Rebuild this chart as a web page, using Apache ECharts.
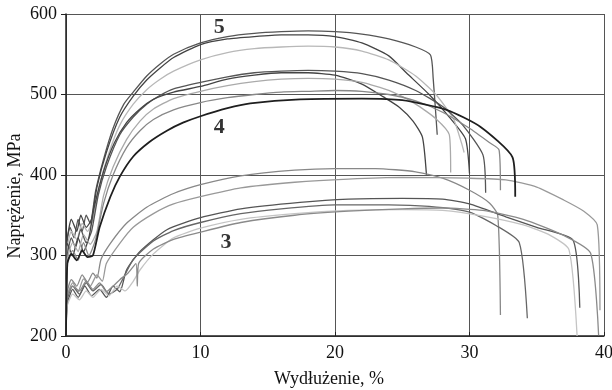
<!DOCTYPE html>
<html>
<head>
<meta charset="utf-8">
<script src="https://cdn.jsdelivr.net/npm/echarts@6/dist/echarts.min.js"></script>
<style>body{margin:0;background:#fff;}</style>
</head>
<body>
<div id="main" style="width:612px;height:390px;"></div>
<script type="text/javascript">
// krzywe rozciągania [wydłużenie %, naprężenie MPa]
// grupa 5
var a5 = [[0,200],[0.1,320],[0.3,335],[0.6,322],[0.9,345],[1.2,330],[1.5,350],[1.8,340],[2.2,380],[2.8,420],[3.5,458],[4.3,488],[5.0,503],[6,523],[7,538],[8,550],[10,564],[12,572],[14,576],[16,578],[18,579],[20,578],[22,575],[24,569],[26,559],[27.1,549],[27.3,520],[27.6,450]];
var b5 = [[0,200],[0.1,320],[0.4,345],[0.8,330],[1.1,350],[1.5,335],[1.9,345],[2.3,385],[3,428],[4,472],[5,498],[6,518],[7,533],[8,546],[10,562],[12,569],[14,572],[16,574],[18,574],[20,572],[22,564],[24,548],[25.3,527],[27,500],[28.5,472],[29.7,445],[30,402]];
var c5 = [[0,200],[0.1,310],[0.4,330],[0.8,320],[1.2,340],[1.6,330],[2,345],[2.5,388],[3.2,428],[4,462],[5,488],[6,506],[7,519],[8,529],[10,543],[12,552],[14,557],[16,559],[18,560],[20,559],[22,554],[24,543],[26,523],[27.5,500],[28.8,470],[29.4,440],[29.6,428]];
// grupa 4
var d4 = [[0,200],[0.1,300],[0.4,322],[0.7,310],[1.1,332],[1.5,316],[1.9,330],[2.4,375],[3,410],[4,450],[5,472],[6,488],[7,499],[8,507],[10,515],[12,522],[14,527],[16,529],[18,530],[20,529],[22,526],[24,518],[26,505],[28,485],[29.5,462],[31.0,425],[31.2,378]];
var e4 = [[0,200],[0.1,315],[0.5,300],[0.9,322],[1.3,305],[1.7,322],[2.1,360],[2.8,405],[3.6,440],[4.5,465],[5.5,482],[6.5,494],[8,503],[10,510],[12,519],[14,524],[16,527],[18,527],[20,524],[22,513],[23.6,497],[24.8,484],[25.8,467],[26.5,447],[26.8,400]];
var f4 = [[0,200],[0.1,295],[0.5,316],[0.9,305],[1.3,326],[1.8,314],[2.3,330],[2.8,375],[3.5,410],[4.5,444],[5.5,467],[6.5,482],[8,495],[10,504],[12,511],[14,516],[16,519],[18,520],[20,519],[22,515],[24,505],[26,488],[27.5,470],[28.5,450],[28.6,403]];
var g4 = [[0,200],[0.1,290],[0.5,306],[0.9,294],[1.3,316],[1.7,300],[2.2,320],[2.8,365],[3.5,400],[4.5,434],[5.5,455],[6.5,469],[8,481],[10,490],[12,496],[14,500],[16,503],[18,504],[20,505],[22,504],[24,500],[26,492],[28,478],[30,458],[31.5,440],[32.2,431],[32.3,381]];
var h4 = [[0,200],[0.1,290],[0.4,302],[0.8,294],[1.2,306],[1.6,298],[2.0,300],[2.5,335],[3.3,373],[4.0,398],[5.0,423],[6.2,441],[7.5,455],[8.7,465],[10,473],[12,483],[13.7,489],[17.4,494],[22,495],[25,493],[28.3,481],[30.8,460],[33.2,422],[33.4,373]];
// grupa 3
var p3 = [[0,200],[0.1,255],[0.4,270],[0.8,262],[1.2,276],[1.6,267],[2.0,278],[2.3,272],[2.6,295],[3.3,315],[4.5,340],[6,360],[8,377],[10,388],[13,399],[17,406],[20,408],[23,408],[26,404],[28,396],[30,381],[31.5,365],[32.1,350],[32.3,226]];
var q3 = [[0,200],[0.1,250],[0.5,266],[0.9,255],[1.3,271],[1.8,262],[2.3,276],[2.7,268],[3.0,290],[4,315],[5,335],[6.5,352],[8,364],[10,373],[13,384],[17,391],[21,395],[25,397],[30,396],[32.7,394],[35,385],[37,369],[38.5,355],[39.5,338],[39.7,232]];
var r3 = [[0,200],[0.1,240],[0.5,258],[0.9,248],[1.4,262],[1.9,250],[2.5,258],[3.0,248],[3.5,262],[4.0,255],[4.5,282],[5.5,305],[7.5,332],[10,347],[13,358],[17.4,366],[21,370],[25,371],[28,370],[30,364],[32.7,348],[35,335],[37.7,319],[38.2,235]];
var s3 = [[0,200],[0.1,245],[0.5,262],[1,252],[1.5,266],[2,256],[2.6,264],[3.2,252],[3.8,258],[4.2,270],[5,295],[6.5,318],[8,331],[10,341],[13,352],[16,358],[20,363],[24,363],[27,361],[30,354],[32,337],[33.7,316],[34.3,222]];
var t3 = [[0,200],[0.1,238],[0.5,252],[1,245],[1.5,256],[2,248],[2.6,258],[3.2,250],[3.8,262],[4.4,256],[5,268],[5.5,282],[6.5,302],[8,322],[10,334],[13,345],[17,352],[21,356],[25,357],[28,356],[31,349],[34,338],[36,325],[37.4,307],[38.0,200]];
var u3 = [[0,200],[0.1,250],[0.5,262],[1,256],[1.5,268],[2,258],[2.5,266],[3,255],[3.5,262],[4,270],[4.6,278],[5.2,290],[5.3,262],[5.4,290],[6.5,308],[8,320],[10,329],[13,341],[17,350],[21,355],[25,358],[28,359],[31,356],[34,345],[37,325],[39,303],[39.6,201]];

var groupLabels = [[11.4, 584, '5'], [11.4, 459, '4'], [11.9, 317, '3']];

var curves = [
    {d: a5, c: '#555555'}, {d: b5, c: '#444444'}, {d: c5, c: '#b8b8b8'},
    {d: d4, c: '#555555'}, {d: e4, c: '#444444'}, {d: f4, c: '#aaaaaa'},
    {d: g4, c: '#888888'}, {d: p3, c: '#888888'}, {d: q3, c: '#999999'},
    {d: r3, c: '#555555'}, {d: s3, c: '#666666'}, {d: t3, c: '#c4c4c4'},
    {d: u3, c: '#8a8a8a'}, {d: h4, c: '#1e1e1e', w: 1.8}
];

var serif = 'Liberation Serif';
var myChart = echarts.init(document.getElementById('main'));

var series = curves.map(function (k) {
    return {
        type: 'line',
        data: k.d,
        showSymbol: false,
        smooth: 0.2,
        lineStyle: {color: k.c, width: k.w || 1.3},
        silent: true
    };
});
series.push({
    type: 'scatter',
    data: groupLabels,
    symbolSize: 0,
    label: {
        show: true, position: 'inside',
        formatter: function (p) { return p.value[2]; },
        fontFamily: serif, fontWeight: 'bold', fontSize: 22, color: '#000'
    }
});

var option = {
    animation: false,
    grid: {left: 66, right: 8, top: 14, bottom: 54, outerBoundsMode: 'none', containLabel: false},
    xAxis: {
        type: 'value', min: 0, max: 40, interval: 10,
        name: 'Wydłużenie, %', nameLocation: 'middle', nameGap: 34,
        nameTextStyle: {fontFamily: serif, fontSize: 18, color: '#111', padding: [0, 12, 0, 0]},
        axisLine: {lineStyle: {color: '#222', width: 1.5}},
        axisTick: {inside: true, length: 4, lineStyle: {color: '#222'}},
        axisLabel: {fontFamily: serif, fontSize: 18, color: '#111', margin: 8},
        splitLine: {lineStyle: {color: '#555', width: 1}}
    },
    yAxis: {
        type: 'value', min: 200, max: 600, interval: 100,
        axisLine: {show: true, lineStyle: {color: '#222', width: 1.5}},
        axisTick: {show: true, length: 5, lineStyle: {color: '#222'}},
        axisLabel: {fontFamily: serif, fontSize: 18, color: '#111', margin: 9},
        splitLine: {lineStyle: {color: '#555', width: 1}}
    },
    graphic: [{
        type: 'text', x: 15, y: 196, rotation: Math.PI / 2,
        style: {
            text: 'Naprężenie, MPa', fontFamily: serif, fontSize: 18, fill: '#111',
            align: 'center', verticalAlign: 'middle'
        }
    }],
    series: series
};
myChart.setOption(option);
</script>
</body>
</html>
